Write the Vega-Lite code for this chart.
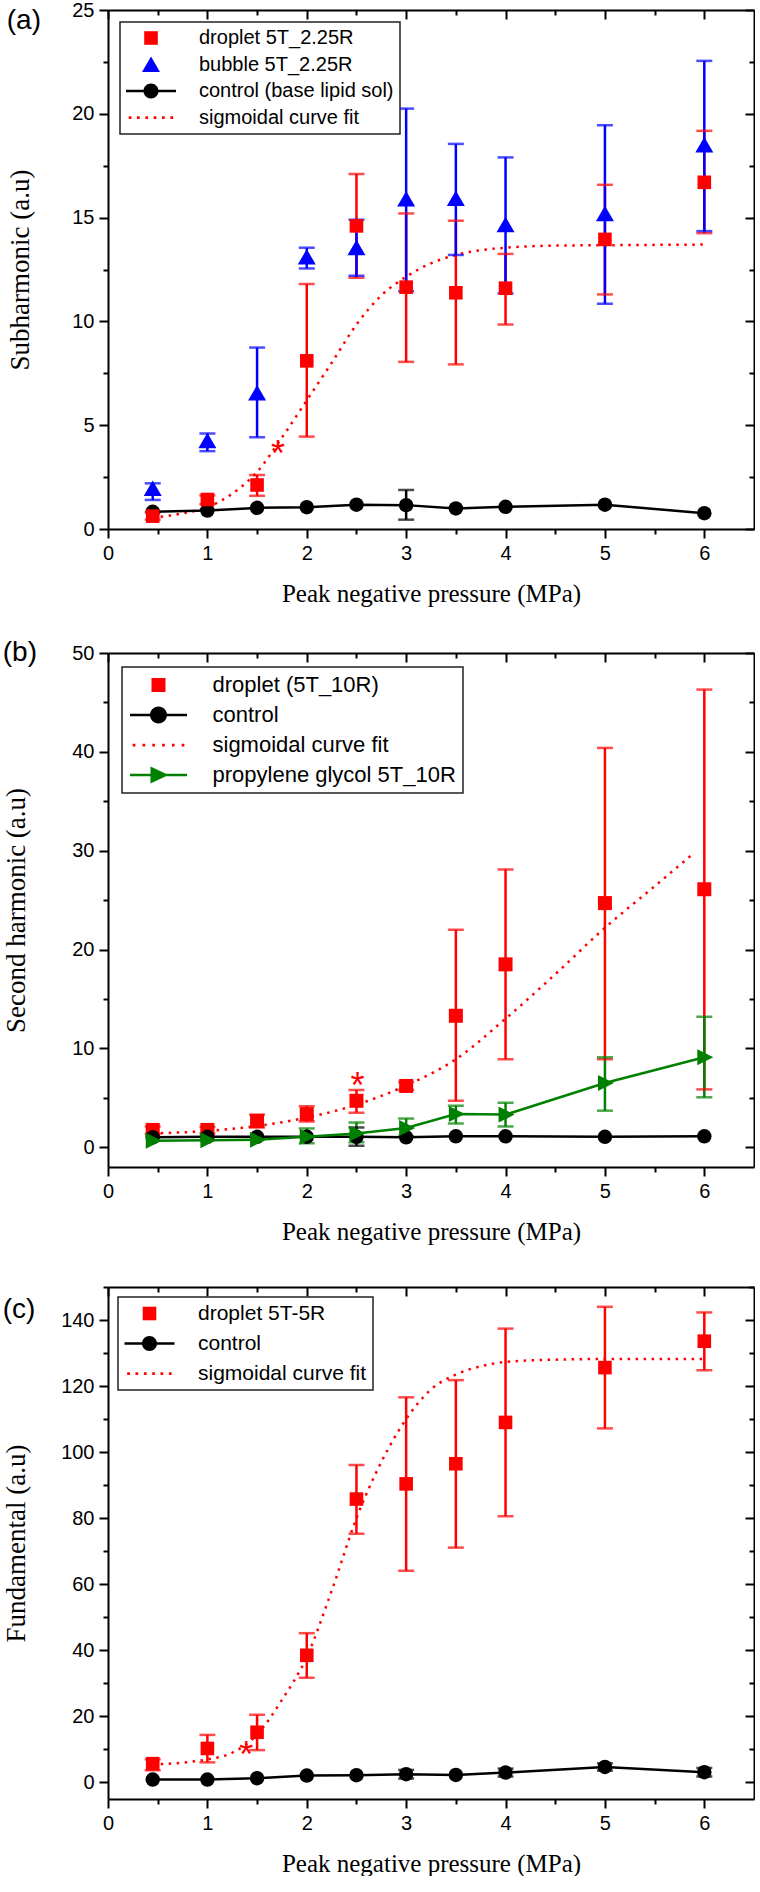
{
  "$schema": "https://vega.github.io/schema/vega-lite/v6.json",
  "padding": {"top": 0, "left": 2, "right": 0, "bottom": 0},
  "spacing": 33,
  "resolve": {
    "scale": {"color": "independent", "shape": "independent"},
    "legend": {"color": "independent", "shape": "independent"}
  },
  "config": {
    "view": {"stroke": null},
    "axis": {
      "domainColor": "#000", "domainWidth": 2, "tickColor": "#000", "tickWidth": 2,
      "labelFont": "Liberation Sans", "labelFontSize": 20, "labelColor": "#000", "labelPadding": 5,
      "labelOverlap": false, "labelFlush": false, "grid": false,
      "titleFont": "Liberation Serif", "titleFontSize": 25, "titleFontWeight": "normal", "titleColor": "#000"
    },
    "legend": {
      "labelFont": "Liberation Sans", "labelColor": "#000", "strokeColor": "#222", "strokeWidth": 1.5, "fillColor": "#fff",
      "symbolStrokeWidth": 0, "symbolOpacity": 1, "labelLimit": 500, "title": null,
      "symbolSize": 400, "symbolOffset": 15, "labelOffset": 38, "orient": "top-left"
    },
    "title": {"font": "Liberation Sans", "fontSize": 28, "fontWeight": "normal", "color": "#000", "anchor": "start", "frame": "bounds"}
  },
  "datasets": {
    "a": [
      {"series": "droplet 5T_2.25R", "x": 0.45, "y": 0.62, "lo": 0.45, "hi": 0.8},
      {"series": "droplet 5T_2.25R", "x": 1, "y": 1.42, "lo": 1.2, "hi": 1.62},
      {"series": "droplet 5T_2.25R", "x": 1.5, "y": 2.12, "lo": 1.6, "hi": 2.6},
      {"series": "droplet 5T_2.25R", "x": 2, "y": 8.1, "lo": 4.45, "hi": 11.8},
      {"series": "droplet 5T_2.25R", "x": 2.5, "y": 14.6, "lo": 12.1, "hi": 17.1},
      {"series": "droplet 5T_2.25R", "x": 3, "y": 11.65, "lo": 8.05, "hi": 15.2},
      {"series": "droplet 5T_2.25R", "x": 3.5, "y": 11.38, "lo": 7.93, "hi": 14.85},
      {"series": "droplet 5T_2.25R", "x": 4, "y": 11.6, "lo": 9.85, "hi": 13.25},
      {"series": "droplet 5T_2.25R", "x": 5, "y": 13.95, "lo": 11.3, "hi": 16.58},
      {"series": "droplet 5T_2.25R", "x": 6, "y": 16.7, "lo": 14.25, "hi": 19.18},
      {"series": "bubble 5T_2.25R", "x": 0.45, "y": 1.95, "lo": 1.4, "hi": 2.2},
      {"series": "bubble 5T_2.25R", "x": 1, "y": 4.25, "lo": 3.75, "hi": 4.6},
      {"series": "bubble 5T_2.25R", "x": 1.5, "y": 6.55, "lo": 4.42, "hi": 8.74},
      {"series": "bubble 5T_2.25R", "x": 2, "y": 13.1, "lo": 12.55, "hi": 13.55},
      {"series": "bubble 5T_2.25R", "x": 2.5, "y": 13.55, "lo": 12.2, "hi": 14.9},
      {"series": "bubble 5T_2.25R", "x": 3, "y": 15.9, "lo": 11.45, "hi": 20.25},
      {"series": "bubble 5T_2.25R", "x": 3.5, "y": 15.92, "lo": 13.2, "hi": 18.55},
      {"series": "bubble 5T_2.25R", "x": 4, "y": 14.66, "lo": 11.35, "hi": 17.9},
      {"series": "bubble 5T_2.25R", "x": 5, "y": 15.18, "lo": 10.85, "hi": 19.45},
      {"series": "bubble 5T_2.25R", "x": 6, "y": 18.5, "lo": 14.35, "hi": 22.55},
      {"series": "control (base lipid sol)", "x": 0.45, "y": 0.83},
      {"series": "control (base lipid sol)", "x": 1, "y": 0.89},
      {"series": "control (base lipid sol)", "x": 1.5, "y": 1.02},
      {"series": "control (base lipid sol)", "x": 2, "y": 1.05},
      {"series": "control (base lipid sol)", "x": 2.5, "y": 1.17},
      {"series": "control (base lipid sol)", "x": 3, "y": 1.15, "lo": 0.45, "hi": 1.88},
      {"series": "control (base lipid sol)", "x": 3.5, "y": 0.99},
      {"series": "control (base lipid sol)", "x": 4, "y": 1.07},
      {"series": "control (base lipid sol)", "x": 5, "y": 1.17},
      {"series": "control (base lipid sol)", "x": 6, "y": 0.76}
    ],
    "aFit": [
      {"x": 0.45, "y": 0.55}, {"x": 0.75, "y": 0.75}, {"x": 1.0, "y": 1.05}, {"x": 1.25, "y": 1.7},
      {"x": 1.5, "y": 2.75}, {"x": 1.75, "y": 4.4}, {"x": 2.0, "y": 6.2}, {"x": 2.25, "y": 8.0},
      {"x": 2.5, "y": 9.85}, {"x": 2.75, "y": 11.25}, {"x": 3.0, "y": 12.15}, {"x": 3.25, "y": 12.8},
      {"x": 3.5, "y": 13.2}, {"x": 4.0, "y": 13.55}, {"x": 4.5, "y": 13.65}, {"x": 5.0, "y": 13.67}, {"x": 6.0, "y": 13.7}
    ],
    "aStar": [{"x": 1.71, "y": 3.98, "t": "*"}],
    "b": [
      {"series": "droplet (5T_10R)", "x": 0.45, "y": 1.75, "lo": 1.35, "hi": 2.1},
      {"series": "droplet (5T_10R)", "x": 1, "y": 1.75, "lo": 1.4, "hi": 2.05},
      {"series": "droplet (5T_10R)", "x": 1.5, "y": 2.65, "lo": 2.0, "hi": 3.3},
      {"series": "droplet (5T_10R)", "x": 2, "y": 3.35, "lo": 2.6, "hi": 4.15},
      {"series": "droplet (5T_10R)", "x": 2.5, "y": 4.7, "lo": 3.5, "hi": 5.8},
      {"series": "droplet (5T_10R)", "x": 3, "y": 6.2, "lo": 5.8, "hi": 6.6},
      {"series": "droplet (5T_10R)", "x": 3.5, "y": 13.3, "lo": 4.7, "hi": 22.0},
      {"series": "droplet (5T_10R)", "x": 4, "y": 18.5, "lo": 8.9, "hi": 28.1},
      {"series": "droplet (5T_10R)", "x": 5, "y": 24.7, "lo": 8.9, "hi": 40.4},
      {"series": "droplet (5T_10R)", "x": 6, "y": 26.1, "lo": 5.85, "hi": 46.3},
      {"series": "control", "x": 0.45, "y": 1.0},
      {"series": "control", "x": 1, "y": 1.05},
      {"series": "control", "x": 1.5, "y": 1.05},
      {"series": "control", "x": 2, "y": 1.05},
      {"series": "control", "x": 2.5, "y": 1.05, "lo": 0.15, "hi": 2.0},
      {"series": "control", "x": 3, "y": 1.0},
      {"series": "control", "x": 3.5, "y": 1.1},
      {"series": "control", "x": 4, "y": 1.1},
      {"series": "control", "x": 5, "y": 1.05},
      {"series": "control", "x": 6, "y": 1.1},
      {"series": "propylene glycol 5T_10R", "x": 0.45, "y": 0.65},
      {"series": "propylene glycol 5T_10R", "x": 1, "y": 0.7},
      {"series": "propylene glycol 5T_10R", "x": 1.5, "y": 0.75},
      {"series": "propylene glycol 5T_10R", "x": 2, "y": 1.05, "lo": 0.4, "hi": 1.9},
      {"series": "propylene glycol 5T_10R", "x": 2.5, "y": 1.4, "lo": 0.5, "hi": 2.5},
      {"series": "propylene glycol 5T_10R", "x": 3, "y": 1.95, "lo": 1.1, "hi": 2.9},
      {"series": "propylene glycol 5T_10R", "x": 3.5, "y": 3.35, "lo": 2.4, "hi": 4.2},
      {"series": "propylene glycol 5T_10R", "x": 4, "y": 3.3, "lo": 2.1, "hi": 4.5},
      {"series": "propylene glycol 5T_10R", "x": 5, "y": 6.5, "lo": 3.7, "hi": 9.1},
      {"series": "propylene glycol 5T_10R", "x": 6, "y": 9.1, "lo": 5.05, "hi": 13.2}
    ],
    "bFit": [
      {"x": 0.45, "y": 1.4}, {"x": 1.0, "y": 1.65}, {"x": 1.5, "y": 2.15}, {"x": 2.0, "y": 3.0},
      {"x": 2.5, "y": 4.3}, {"x": 3.0, "y": 6.25}, {"x": 3.5, "y": 8.9}, {"x": 4.0, "y": 13.0},
      {"x": 4.5, "y": 17.5}, {"x": 5.0, "y": 22.2}, {"x": 5.5, "y": 26.4}, {"x": 5.9, "y": 29.8}
    ],
    "bStar": [{"x": 2.51, "y": 6.97, "t": "*"}],
    "c": [
      {"series": "droplet 5T-5R", "x": 0.45, "y": 5.7, "lo": 3.7, "hi": 7.0},
      {"series": "droplet 5T-5R", "x": 1, "y": 10.3, "lo": 6.1, "hi": 14.4},
      {"series": "droplet 5T-5R", "x": 1.5, "y": 15.2, "lo": 9.8, "hi": 20.5},
      {"series": "droplet 5T-5R", "x": 2, "y": 38.5, "lo": 31.7, "hi": 45.2},
      {"series": "droplet 5T-5R", "x": 2.5, "y": 85.8, "lo": 75.3, "hi": 96.1},
      {"series": "droplet 5T-5R", "x": 3, "y": 90.4, "lo": 64.1, "hi": 116.6},
      {"series": "droplet 5T-5R", "x": 3.5, "y": 96.5, "lo": 71.1, "hi": 121.8},
      {"series": "droplet 5T-5R", "x": 4, "y": 109.0, "lo": 80.6, "hi": 137.4},
      {"series": "droplet 5T-5R", "x": 5, "y": 125.6, "lo": 107.2, "hi": 144.0},
      {"series": "droplet 5T-5R", "x": 6, "y": 133.6, "lo": 124.8, "hi": 142.3},
      {"series": "control", "x": 0.45, "y": 0.9},
      {"series": "control", "x": 1, "y": 0.9},
      {"series": "control", "x": 1.5, "y": 1.3},
      {"series": "control", "x": 2, "y": 2.1},
      {"series": "control", "x": 2.5, "y": 2.2},
      {"series": "control", "x": 3, "y": 2.5, "lo": 1.2, "hi": 3.8},
      {"series": "control", "x": 3.5, "y": 2.3},
      {"series": "control", "x": 4, "y": 3.0, "lo": 1.8, "hi": 4.2},
      {"series": "control", "x": 5, "y": 4.7, "lo": 3.6, "hi": 5.8},
      {"series": "control", "x": 6, "y": 3.1, "lo": 1.8, "hi": 4.4}
    ],
    "cFit": [
      {"x": 0.45, "y": 5.5}, {"x": 0.75, "y": 6.0}, {"x": 1.0, "y": 7.0}, {"x": 1.25, "y": 9.0},
      {"x": 1.5, "y": 14.5}, {"x": 1.75, "y": 25.0}, {"x": 2.0, "y": 38.0}, {"x": 2.25, "y": 58.0},
      {"x": 2.5, "y": 80.0}, {"x": 2.75, "y": 97.0}, {"x": 3.0, "y": 110.0}, {"x": 3.25, "y": 119.0},
      {"x": 3.5, "y": 123.5}, {"x": 3.75, "y": 126.0}, {"x": 4.0, "y": 127.3}, {"x": 4.5, "y": 128.0},
      {"x": 5.0, "y": 128.2}, {"x": 6.0, "y": 128.2}
    ],
    "cStar": [{"x": 1.39, "y": 10.8, "t": "*"}]
  },
  "vconcat": [
    {
      "width": 646,
      "height": 519,
      "title": {"text": "(a)", "offset": -35},
      "resolve": {"axis": {"x": "independent", "y": "independent"}},
      "layer": [
        {
          "data": {"name": "aFit"},
          "mark": {"type": "line", "color": "#ff0000", "strokeWidth": 2.5, "strokeDash": [2.5, 5.5], "interpolate": "monotone"},
          "encoding": {
            "x": {"field": "x", "type": "quantitative", "scale": {"domain": [0, 6.5], "nice": false, "zero": false},
              "axis": {"orient": "top", "title": null, "labels": false, "values": [0, 0.5, 1, 1.5, 2, 2.5, 3, 3.5, 4, 4.5, 5, 5.5, 6],
                "tickSize": {"condition": {"test": "datum.value % 1 === 0", "value": -9}, "value": -5}}},
            "y": {"field": "y", "type": "quantitative", "scale": {"domain": [0, 25], "nice": false, "zero": false},
              "axis": {"orient": "right", "title": null, "labels": false, "values": [0, 2.5, 5, 7.5, 10, 12.5, 15, 17.5, 20, 22.5, 25],
                "tickSize": {"condition": {"test": "datum.value % 5 === 0", "value": -9}, "value": -5}}}
          }
        },
        {
          "data": {"name": "a"},
          "transform": [{"filter": "datum.lo != null"}],
          "mark": {"type": "rule", "strokeWidth": 2.5},
          "encoding": {
            "x": {"field": "x", "type": "quantitative", "scale": {"domain": [0, 6.5], "nice": false, "zero": false}, "axis": null},
            "y": {"field": "lo", "type": "quantitative", "scale": {"domain": [0, 25], "nice": false, "zero": false}, "axis": null},
            "y2": {"field": "hi"},
            "color": {"condition": [{"test": "datum.series === 'bubble 5T_2.25R'", "value": "#0000ff"}, {"test": "datum.series === 'control (base lipid sol)'", "value": "#000000"}], "value": "#ff0000"}
          }
        },
        {
          "data": {"name": "a"},
          "transform": [{"filter": "datum.lo != null"}, {"fold": ["lo", "hi"], "as": ["end", "cap"]}],
          "mark": {"type": "tick", "orient": "horizontal", "size": 16, "thickness": 2.5},
          "encoding": {
            "x": {"field": "x", "type": "quantitative", "scale": {"domain": [0, 6.5], "nice": false, "zero": false}, "axis": null},
            "y": {"field": "cap", "type": "quantitative", "scale": {"domain": [0, 25], "nice": false, "zero": false}, "axis": null},
            "color": {"condition": [{"test": "datum.series === 'bubble 5T_2.25R'", "value": "#0000ff"}, {"test": "datum.series === 'control (base lipid sol)'", "value": "#000000"}], "value": "#ff0000"}
          }
        },
        {
          "data": {"name": "a"},
          "transform": [{"filter": "datum.series === 'control (base lipid sol)'"}],
          "mark": {"type": "line", "color": "#000", "strokeWidth": 2.5},
          "encoding": {
            "x": {"field": "x", "type": "quantitative", "scale": {"domain": [0, 6.5], "nice": false, "zero": false},
              "axis": {"orient": "bottom", "title": "Peak negative pressure (MPa)", "titlePadding": 18, "values": [0, 0.5, 1, 1.5, 2, 2.5, 3, 3.5, 4, 4.5, 5, 5.5, 6],
                "labelExpr": "datum.value % 1 === 0 ? format(datum.value, 'd') : ''",
                "tickSize": {"condition": {"test": "datum.value % 1 === 0", "value": 9}, "value": 5}}},
            "y": {"field": "y", "type": "quantitative", "scale": {"domain": [0, 25], "nice": false, "zero": false},
              "axis": {"orient": "left", "title": "Subharmonic (a.u)", "titleFontSize": 27, "titlePadding": 37, "values": [0, 2.5, 5, 7.5, 10, 12.5, 15, 17.5, 20, 22.5, 25],
                "labelExpr": "datum.value % 5 === 0 ? format(datum.value, 'd') : ''",
                "tickSize": {"condition": {"test": "datum.value % 5 === 0", "value": 9}, "value": 5}}}
          }
        },
        {
          "data": {"name": "a"},
          "transform": [{"filter": "datum.series === 'control (base lipid sol)'"}],
          "mark": {"type": "point", "shape": "circle", "filled": true, "opacity": 1, "color": "#000", "size": 210},
          "encoding": {
            "x": {"field": "x", "type": "quantitative", "scale": {"domain": [0, 6.5], "nice": false, "zero": false}, "axis": null},
            "y": {"field": "y", "type": "quantitative", "scale": {"domain": [0, 25], "nice": false, "zero": false}, "axis": null}
          }
        },
        {
          "data": {"name": "a"},
          "transform": [{"filter": "datum.series !== 'control (base lipid sol)'"}],
          "mark": {"type": "point", "filled": true, "opacity": 1, "size": 400, "strokeWidth": 0},
          "encoding": {
            "x": {"field": "x", "type": "quantitative", "scale": {"domain": [0, 6.5], "nice": false, "zero": false}, "axis": null},
            "y": {"field": "y", "type": "quantitative", "scale": {"domain": [0, 25], "nice": false, "zero": false}, "axis": null},
            "color": {"field": "series", "type": "nominal",
              "scale": {"domain": ["droplet 5T_2.25R", "bubble 5T_2.25R", "control (base lipid sol)", "sigmoidal curve fit"], "range": ["#ff0000", "#0000ff", "#000000", "#ff0000"]},
              "legend": {"offset": 12, "padding": 6, "labelFontSize": 20, "rowPadding": 6.5}},
            "shape": {"field": "series", "type": "nominal",
              "scale": {"domain": ["droplet 5T_2.25R", "bubble 5T_2.25R", "control (base lipid sol)", "sigmoidal curve fit"],
                "range": ["M-0.68,-0.68H0.68V0.68H-0.68Z", "M0,-0.8L0.9,0.75L-0.9,0.75Z", "M-2.5,-0.13H2.5V0.13H-2.5Z M0.75,0A0.75,0.75,0,1,1,-0.75,0A0.75,0.75,0,1,1,0.75,0Z", "M-2.23,-0.13h0.27v0.27h-0.27Z M-1.4,-0.13h0.27v0.27h-0.27Z M-0.56,-0.13h0.27v0.27h-0.27Z M0.27,-0.13h0.27v0.27h-0.27Z M1.1,-0.13h0.27v0.27h-0.27Z M1.94,-0.13h0.27v0.27h-0.27Z"]},
              "legend": {"offset": 12, "padding": 6, "labelFontSize": 20, "rowPadding": 6.5}}
          }
        },
        {
          "data": {"name": "aStar"},
          "mark": {"type": "text", "color": "#ff0000", "font": "Liberation Sans", "fontSize": 36, "baseline": "alphabetic", "dy": 20},
          "encoding": {
            "x": {"field": "x", "type": "quantitative", "scale": {"domain": [0, 6.5], "nice": false, "zero": false}, "axis": null},
            "y": {"field": "y", "type": "quantitative", "scale": {"domain": [0, 25], "nice": false, "zero": false}, "axis": null},
            "text": {"field": "t"}
          }
        }
      ]
    },
    {
      "width": 646,
      "height": 514,
      "title": {"text": "(b)", "offset": -24},
      "resolve": {"axis": {"x": "independent", "y": "independent"}},
      "layer": [
        {
          "data": {"name": "bFit"},
          "mark": {"type": "line", "color": "#ff0000", "strokeWidth": 2.5, "strokeDash": [2.5, 5.5], "interpolate": "monotone"},
          "encoding": {
            "x": {"field": "x", "type": "quantitative", "scale": {"domain": [0, 6.5], "nice": false, "zero": false},
              "axis": {"orient": "top", "title": null, "labels": false, "values": [0, 0.5, 1, 1.5, 2, 2.5, 3, 3.5, 4, 4.5, 5, 5.5, 6],
                "tickSize": {"condition": {"test": "datum.value % 1 === 0", "value": -9}, "value": -5}}},
            "y": {"field": "y", "type": "quantitative", "scale": {"domain": [-2, 50], "nice": false, "zero": false},
              "axis": {"orient": "right", "title": null, "labels": false, "values": [0, 5, 10, 15, 20, 25, 30, 35, 40, 45, 50],
                "tickSize": {"condition": {"test": "datum.value % 10 === 0", "value": -9}, "value": -5}}}
          }
        },
        {
          "data": {"name": "b"},
          "transform": [{"filter": "datum.lo != null"}],
          "mark": {"type": "rule", "strokeWidth": 2.5},
          "encoding": {
            "x": {"field": "x", "type": "quantitative", "scale": {"domain": [0, 6.5], "nice": false, "zero": false}, "axis": null},
            "y": {"field": "lo", "type": "quantitative", "scale": {"domain": [-2, 50], "nice": false, "zero": false}, "axis": null},
            "y2": {"field": "hi"},
            "color": {"condition": [{"test": "datum.series === 'propylene glycol 5T_10R'", "value": "#008000"}, {"test": "datum.series === 'control'", "value": "#000000"}], "value": "#ff0000"}
          }
        },
        {
          "data": {"name": "b"},
          "transform": [{"filter": "datum.lo != null"}, {"fold": ["lo", "hi"], "as": ["end", "cap"]}],
          "mark": {"type": "tick", "orient": "horizontal", "size": 16, "thickness": 2.5},
          "encoding": {
            "x": {"field": "x", "type": "quantitative", "scale": {"domain": [0, 6.5], "nice": false, "zero": false}, "axis": null},
            "y": {"field": "cap", "type": "quantitative", "scale": {"domain": [-2, 50], "nice": false, "zero": false}, "axis": null},
            "color": {"condition": [{"test": "datum.series === 'propylene glycol 5T_10R'", "value": "#008000"}, {"test": "datum.series === 'control'", "value": "#000000"}], "value": "#ff0000"}
          }
        },
        {
          "data": {"name": "b"},
          "transform": [{"filter": "datum.series === 'droplet (5T_10R)'"}],
          "mark": {"type": "point", "filled": true, "opacity": 1, "size": 400, "strokeWidth": 0},
          "encoding": {
            "x": {"field": "x", "type": "quantitative", "scale": {"domain": [0, 6.5], "nice": false, "zero": false}, "axis": null},
            "y": {"field": "y", "type": "quantitative", "scale": {"domain": [-2, 50], "nice": false, "zero": false}, "axis": null},
            "color": {"field": "series", "type": "nominal",
              "scale": {"domain": ["droplet (5T_10R)", "control", "sigmoidal curve fit", "propylene glycol 5T_10R"], "range": ["#ff0000", "#000000", "#ff0000", "#008000"]},
              "legend": {"offset": 14, "padding": 7, "labelFontSize": 22, "rowPadding": 8, "symbolOffset": 18.5, "labelOffset": 43}},
            "shape": {"field": "series", "type": "nominal",
              "scale": {"domain": ["droplet (5T_10R)", "control", "sigmoidal curve fit", "propylene glycol 5T_10R"],
                "range": ["M-0.7,-0.7H0.7V0.7H-0.7Z", "M-2.85,-0.13H2.85V0.13H-2.85Z M0.85,0A0.85,0.85,0,1,1,-0.85,0A0.85,0.85,0,1,1,0.85,0Z", "M-2.58,-0.13h0.27v0.27h-0.27Z M-1.6,-0.13h0.27v0.27h-0.27Z M-0.62,-0.13h0.27v0.27h-0.27Z M0.36,-0.13h0.27v0.27h-0.27Z M1.34,-0.13h0.27v0.27h-0.27Z M2.32,-0.13h0.27v0.27h-0.27Z", "M-2.85,-0.13H2.85V0.13H-2.85Z M-0.8,-0.85L1.0,0L-0.8,0.85Z"]},
              "legend": {"offset": 14, "padding": 7, "labelFontSize": 22, "rowPadding": 8, "symbolOffset": 18.5, "labelOffset": 43}}
          }
        },
        {
          "data": {"name": "b"},
          "transform": [{"filter": "datum.series === 'control'"}],
          "mark": {"type": "line", "color": "#000", "strokeWidth": 2.5},
          "encoding": {
            "x": {"field": "x", "type": "quantitative", "scale": {"domain": [0, 6.5], "nice": false, "zero": false},
              "axis": {"orient": "bottom", "title": "Peak negative pressure (MPa)", "titlePadding": 18, "values": [0, 0.5, 1, 1.5, 2, 2.5, 3, 3.5, 4, 4.5, 5, 5.5, 6],
                "labelExpr": "datum.value % 1 === 0 ? format(datum.value, 'd') : ''",
                "tickSize": {"condition": {"test": "datum.value % 1 === 0", "value": 9}, "value": 5}}},
            "y": {"field": "y", "type": "quantitative", "scale": {"domain": [-2, 50], "nice": false, "zero": false},
              "axis": {"orient": "left", "title": "Second harmonic (a.u)", "titleFontSize": 27, "titlePadding": 41, "values": [0, 5, 10, 15, 20, 25, 30, 35, 40, 45, 50],
                "labelExpr": "datum.value % 10 === 0 ? format(datum.value, 'd') : ''",
                "tickSize": {"condition": {"test": "datum.value % 10 === 0", "value": 9}, "value": 5}}}
          }
        },
        {
          "data": {"name": "b"},
          "transform": [{"filter": "datum.series === 'control'"}],
          "mark": {"type": "point", "shape": "circle", "filled": true, "opacity": 1, "color": "#000", "size": 210},
          "encoding": {
            "x": {"field": "x", "type": "quantitative", "scale": {"domain": [0, 6.5], "nice": false, "zero": false}, "axis": null},
            "y": {"field": "y", "type": "quantitative", "scale": {"domain": [-2, 50], "nice": false, "zero": false}, "axis": null}
          }
        },
        {
          "data": {"name": "b"},
          "transform": [{"filter": "datum.series === 'propylene glycol 5T_10R'"}],
          "mark": {"type": "line", "color": "#008000", "strokeWidth": 2.5},
          "encoding": {
            "x": {"field": "x", "type": "quantitative", "scale": {"domain": [0, 6.5], "nice": false, "zero": false}, "axis": null},
            "y": {"field": "y", "type": "quantitative", "scale": {"domain": [-2, 50], "nice": false, "zero": false}, "axis": null}
          }
        },
        {
          "data": {"name": "b"},
          "transform": [{"filter": "datum.series === 'propylene glycol 5T_10R'"}],
          "mark": {"type": "point", "shape": "M-0.7,-0.8L0.9,0L-0.7,0.8Z", "filled": true, "opacity": 1, "color": "#008000", "size": 400, "strokeWidth": 0},
          "encoding": {
            "x": {"field": "x", "type": "quantitative", "scale": {"domain": [0, 6.5], "nice": false, "zero": false}, "axis": null},
            "y": {"field": "y", "type": "quantitative", "scale": {"domain": [-2, 50], "nice": false, "zero": false}, "axis": null}
          }
        },
        {
          "data": {"name": "bStar"},
          "mark": {"type": "text", "color": "#ff0000", "font": "Liberation Sans", "fontSize": 36, "baseline": "alphabetic", "dy": 20},
          "encoding": {
            "x": {"field": "x", "type": "quantitative", "scale": {"domain": [0, 6.5], "nice": false, "zero": false}, "axis": null},
            "y": {"field": "y", "type": "quantitative", "scale": {"domain": [-2, 50], "nice": false, "zero": false}, "axis": null},
            "text": {"field": "t"}
          }
        }
      ]
    },
    {
      "width": 646,
      "height": 512,
      "title": {"text": "(c)", "offset": -47},
      "resolve": {"axis": {"x": "independent", "y": "independent"}},
      "layer": [
        {
          "data": {"name": "cFit"},
          "mark": {"type": "line", "color": "#ff0000", "strokeWidth": 2.5, "strokeDash": [2.5, 5.5], "interpolate": "monotone"},
          "encoding": {
            "x": {"field": "x", "type": "quantitative", "scale": {"domain": [0, 6.5], "nice": false, "zero": false},
              "axis": {"orient": "top", "title": null, "labels": false, "values": [0, 0.5, 1, 1.5, 2, 2.5, 3, 3.5, 4, 4.5, 5, 5.5, 6],
                "tickSize": {"condition": {"test": "datum.value % 1 === 0", "value": -9}, "value": -5}}},
            "y": {"field": "y", "type": "quantitative", "scale": {"domain": [-5, 150], "nice": false, "zero": false},
              "axis": {"orient": "right", "title": null, "labels": false, "values": [0, 10, 20, 30, 40, 50, 60, 70, 80, 90, 100, 110, 120, 130, 140, 150],
                "tickSize": {"condition": {"test": "datum.value % 20 === 0", "value": -9}, "value": -5}}}
          }
        },
        {
          "data": {"name": "c"},
          "transform": [{"filter": "datum.lo != null"}],
          "mark": {"type": "rule", "strokeWidth": 2.5},
          "encoding": {
            "x": {"field": "x", "type": "quantitative", "scale": {"domain": [0, 6.5], "nice": false, "zero": false}, "axis": null},
            "y": {"field": "lo", "type": "quantitative", "scale": {"domain": [-5, 150], "nice": false, "zero": false}, "axis": null},
            "y2": {"field": "hi"},
            "color": {"condition": {"test": "datum.series === 'control'", "value": "#000000"}, "value": "#ff0000"}
          }
        },
        {
          "data": {"name": "c"},
          "transform": [{"filter": "datum.lo != null"}, {"fold": ["lo", "hi"], "as": ["end", "cap"]}],
          "mark": {"type": "tick", "orient": "horizontal", "size": 16, "thickness": 2.5},
          "encoding": {
            "x": {"field": "x", "type": "quantitative", "scale": {"domain": [0, 6.5], "nice": false, "zero": false}, "axis": null},
            "y": {"field": "cap", "type": "quantitative", "scale": {"domain": [-5, 150], "nice": false, "zero": false}, "axis": null},
            "color": {"condition": {"test": "datum.series === 'control'", "value": "#000000"}, "value": "#ff0000"}
          }
        },
        {
          "data": {"name": "c"},
          "transform": [{"filter": "datum.series === 'control'"}],
          "mark": {"type": "line", "color": "#000", "strokeWidth": 2.5},
          "encoding": {
            "x": {"field": "x", "type": "quantitative", "scale": {"domain": [0, 6.5], "nice": false, "zero": false},
              "axis": {"orient": "bottom", "title": "Peak negative pressure (MPa)", "titlePadding": 18, "values": [0, 0.5, 1, 1.5, 2, 2.5, 3, 3.5, 4, 4.5, 5, 5.5, 6],
                "labelExpr": "datum.value % 1 === 0 ? format(datum.value, 'd') : ''",
                "tickSize": {"condition": {"test": "datum.value % 1 === 0", "value": 9}, "value": 5}}},
            "y": {"field": "y", "type": "quantitative", "scale": {"domain": [-5, 150], "nice": false, "zero": false},
              "axis": {"orient": "left", "title": "Fundamental (a.u)", "titleFontSize": 27, "titlePadding": 30, "values": [0, 10, 20, 30, 40, 50, 60, 70, 80, 90, 100, 110, 120, 130, 140, 150],
                "labelExpr": "datum.value % 20 === 0 && datum.value < 150 ? format(datum.value, 'd') : ''",
                "tickSize": {"condition": {"test": "datum.value % 20 === 0", "value": 9}, "value": 5}}}
          }
        },
        {
          "data": {"name": "c"},
          "transform": [{"filter": "datum.series === 'control'"}],
          "mark": {"type": "point", "shape": "circle", "filled": true, "opacity": 1, "color": "#000", "size": 210},
          "encoding": {
            "x": {"field": "x", "type": "quantitative", "scale": {"domain": [0, 6.5], "nice": false, "zero": false}, "axis": null},
            "y": {"field": "y", "type": "quantitative", "scale": {"domain": [-5, 150], "nice": false, "zero": false}, "axis": null}
          }
        },
        {
          "data": {"name": "c"},
          "transform": [{"filter": "datum.series !== 'control'"}],
          "mark": {"type": "point", "filled": true, "opacity": 1, "size": 400, "strokeWidth": 0},
          "encoding": {
            "x": {"field": "x", "type": "quantitative", "scale": {"domain": [0, 6.5], "nice": false, "zero": false}, "axis": null},
            "y": {"field": "y", "type": "quantitative", "scale": {"domain": [-5, 150], "nice": false, "zero": false}, "axis": null},
            "color": {"field": "series", "type": "nominal",
              "scale": {"domain": ["droplet 5T-5R", "control", "sigmoidal curve fit"], "range": ["#ff0000", "#000000", "#ff0000"]},
              "legend": {"offset": 10, "padding": 6, "labelFontSize": 21, "rowPadding": 8}},
            "shape": {"field": "series", "type": "nominal",
              "scale": {"domain": ["droplet 5T-5R", "control", "sigmoidal curve fit"],
                "range": ["M-0.68,-0.68H0.68V0.68H-0.68Z", "M-2.5,-0.13H2.5V0.13H-2.5Z M0.75,0A0.75,0.75,0,1,1,-0.75,0A0.75,0.75,0,1,1,0.75,0Z", "M-2.23,-0.13h0.27v0.27h-0.27Z M-1.4,-0.13h0.27v0.27h-0.27Z M-0.56,-0.13h0.27v0.27h-0.27Z M0.27,-0.13h0.27v0.27h-0.27Z M1.1,-0.13h0.27v0.27h-0.27Z M1.94,-0.13h0.27v0.27h-0.27Z"]},
              "legend": {"offset": 10, "padding": 6, "labelFontSize": 21, "rowPadding": 8}}
          }
        },
        {
          "data": {"name": "cStar"},
          "mark": {"type": "text", "color": "#ff0000", "font": "Liberation Sans", "fontSize": 36, "baseline": "alphabetic", "dy": 20},
          "encoding": {
            "x": {"field": "x", "type": "quantitative", "scale": {"domain": [0, 6.5], "nice": false, "zero": false}, "axis": null},
            "y": {"field": "y", "type": "quantitative", "scale": {"domain": [-5, 150], "nice": false, "zero": false}, "axis": null},
            "text": {"field": "t"}
          }
        }
      ]
    }
  ]
}
